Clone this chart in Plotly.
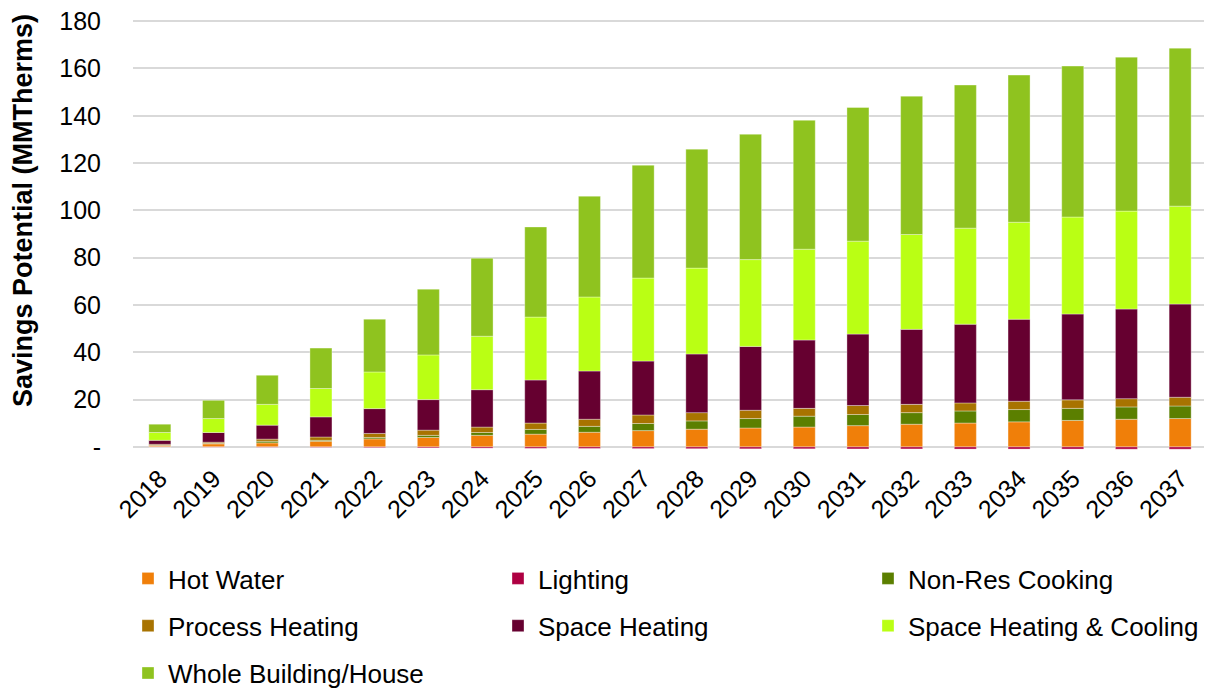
import plotly.graph_objects as go

years = [str(y) for y in range(2018, 2038)]

hot_water = [0.5, 1.3, 1.7, 2.4, 3.4, 4.0, 4.9, 5.4, 6.2, 6.9, 7.5, 8.0, 8.4, 9.0, 9.6, 10.1, 10.6, 11.2, 11.7, 12.0]
lighting = [-0.05, -0.1, -0.15, -0.2, -0.3, -0.4, -0.5, -0.6, -0.65, -0.7, -0.75, -0.8, -0.8, -0.85, -0.85, -0.9, -0.9, -0.9, -0.95, -0.95]
non_res_cooking = [0.1, 0.2, 0.7, 0.4, 0.6, 0.9, 1.2, 2.0, 2.5, 3.0, 3.5, 4.0, 4.6, 4.7, 4.9, 5.1, 5.2, 5.1, 5.2, 5.3]
process_heating = [0.5, 0.5, 0.9, 1.4, 1.7, 2.2, 2.3, 2.7, 3.0, 3.6, 3.5, 3.5, 3.3, 3.8, 3.5, 3.4, 3.5, 3.6, 3.5, 3.7]
space_heating = [1.7, 4.1, 5.9, 8.5, 10.5, 12.9, 15.8, 18.2, 20.4, 22.8, 24.8, 27.0, 28.9, 30.2, 31.7, 33.3, 34.7, 36.3, 37.9, 39.4]
space_heating_cooling = [3.3, 5.9, 8.8, 12.0, 15.5, 18.9, 22.6, 26.6, 31.3, 35.1, 36.3, 36.7, 38.4, 39.3, 40.1, 40.6, 41.0, 41.0, 41.4, 41.4]
whole_building = [3.5, 7.7, 12.3, 17.1, 22.3, 27.8, 33.0, 38.1, 42.6, 47.7, 50.3, 53.0, 54.5, 56.5, 58.5, 60.5, 62.2, 63.8, 65.1, 66.8]

y_tick_vals = [0, 20, 40, 60, 80, 100, 120, 140, 160, 180]
y_tick_text = ["-", "20", "40", "60", "80", "100", "120", "140", "160", "180"]

# legend column each series appears in (legend = col 1, legend2 = col 2, legend3 = col 3)
series = [
    ("Hot Water", hot_water, "#F07F09", "legend"),
    ("Lighting", lighting, "#AE0042", "legend2"),
    ("Non-Res Cooking", non_res_cooking, "#5B7F00", "legend3"),
    ("Process Heating", process_heating, "#A87300", "legend"),
    ("Space Heating", space_heating, "#660030", "legend2"),
    ("Space Heating & Cooling", space_heating_cooling, "#BAFF14", "legend3"),
    ("Whole Building/House", whole_building, "#8FC31F", "legend"),
]

FONT = "Liberation Sans, Arial, sans-serif"

fig = go.Figure()
for name, vals, color, lg in series:
    fig.add_trace(go.Bar(
        x=years, y=vals, name=name, legend=lg, legendgroup=name,
        marker=dict(color=color, line=dict(color="rgba(255,255,255,0.45)", width=0.75)),
    ))

# the page puts the figure 8px in from the top-left corner of the window
W, H = 1204, 681
L, T = 125, 12
PW, PH = 1074.0, 430.0
R = W - L - int(PW)
B = H - T - int(PH)
plot_bottom = T + PH


def px_x(x):
    return (x - L) / PW


def px_y(y):
    return (plot_bottom - y) / PH


legend_common = dict(
    orientation="v", xanchor="left", yanchor="top",
    font=dict(family=FONT, size=26, color="#000000"),
    tracegroupgap=10.5, bgcolor="rgba(0,0,0,0)",
    itemclick=False, itemdoubleclick=False,
)

legend_top = 547
fig.update_layout(
    width=W, height=H,
    barmode="relative", bargap=0.59,
    plot_bgcolor="white", paper_bgcolor="white",
    margin=dict(l=L, r=R, t=T, b=B, autoexpand=False),
    font=dict(family=FONT, size=25, color="#000000"),
    xaxis=dict(
        tickangle=-45, tickfont=dict(size=25), showgrid=False,
        showline=False, ticks="", ticklabelstandoff=8,
    ),
    yaxis=dict(
        range=[-1.3, 180.5], tickvals=y_tick_vals, ticktext=y_tick_text,
        tickfont=dict(size=25), showgrid=True, gridcolor="#D9D9D9", gridwidth=1.5,
        zeroline=False, showline=False,
        ticks="outside", ticklen=26, tickcolor="rgba(0,0,0,0)",
        ticklabeloverflow="allow",
    ),
    legend=dict(x=px_x(120), y=px_y(legend_top), **legend_common),
    legend2=dict(x=px_x(490), y=px_y(legend_top), **legend_common),
    legend3=dict(x=px_x(860), y=px_y(legend_top), **legend_common),
    annotations=[dict(
        text="<b>Savings Potential (MMTherms)</b>", textangle=-90,
        xref="paper", yref="paper", x=px_x(15), y=px_y(203),
        xanchor="center", yanchor="middle", showarrow=False,
        font=dict(family=FONT, size=27, color="#000000"),
    )],
)

fig.write_html("out.html")
